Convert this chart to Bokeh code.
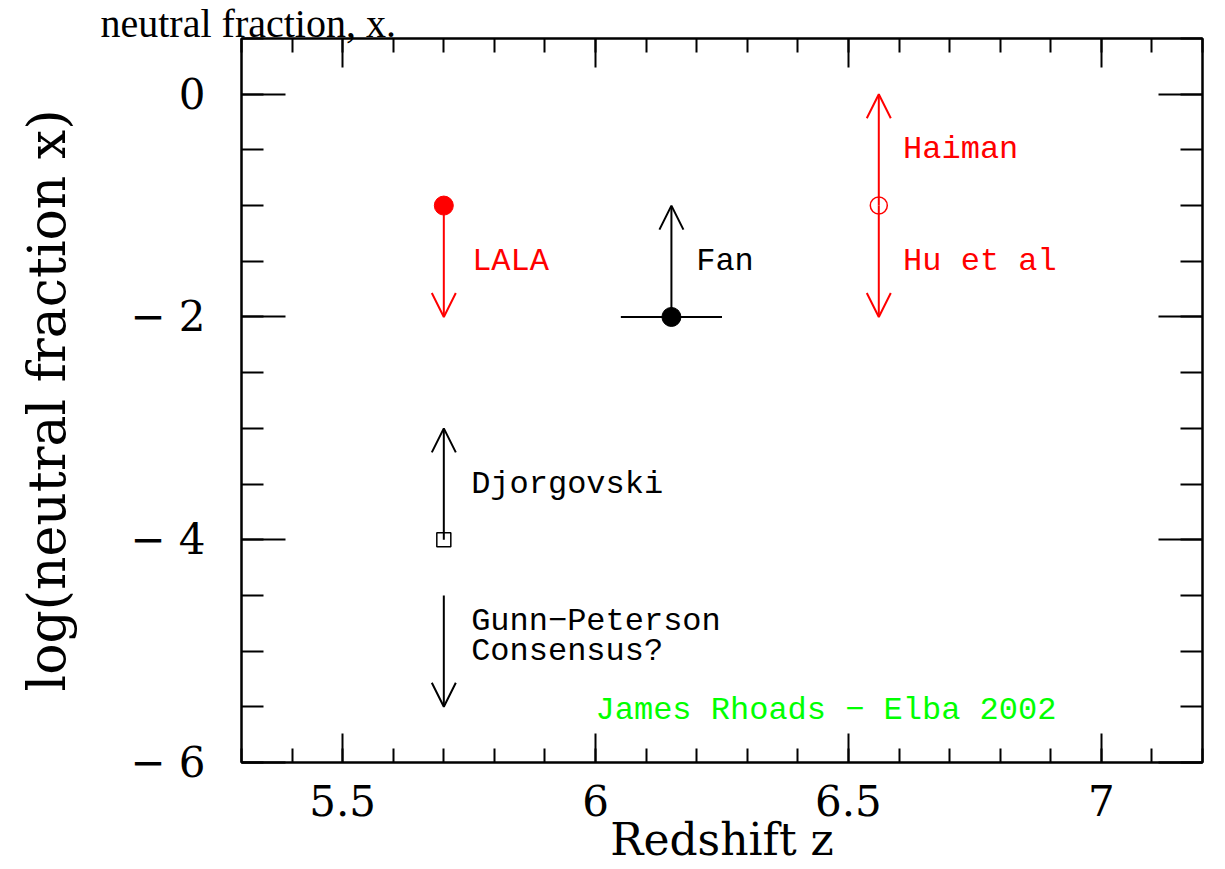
from bokeh.plotting import figure
from bokeh.models import (LinearAxis, FixedTicker, Arrow, OpenHead, Range1d,
                          CustomJSTickFormatter, ColumnDataSource)
from bokeh.core.properties import value
from bokeh.embed import file_html
from bokeh.resources import INLINE

# ---------------- data ----------------
# measurement points (redshift z, log neutral fraction)
pt_name = ["LALA", "Fan", "Hu et al", "Djorgovski"]
pt_z = [5.70, 6.15, 6.56, 5.70]
pt_logx = [-1.0, -2.0, -1.0, -4.0]
pt_marker = ["circle", "circle", "circle", "square"]
pt_color = ["#ff0000", "#000000", "#ff0000", "#000000"]
pt_filled = [True, True, False, False]

# limits drawn as arrows (from -> to)
arr_z = [5.70, 6.15, 6.56, 6.56, 5.70, 5.70]
arr_from = [-1.0, -2.0, -1.0, -1.0, -4.0, -4.5]
arr_to = [-2.0, -1.0, 0.0, -2.0, -3.0, -5.5]
arr_color = ["#ff0000", "#000000", "#ff0000", "#ff0000", "#000000", "#000000"]

# redshift error bar on Fan point
err_z_lo = [6.05]
err_z_hi = [6.25]
err_logx = [-2.0]

# annotations
lab_text = ["LALA", "Fan", "Haiman", "Hu et al", "Djorgovski",
            "Gunn\u2212Peterson", "Consensus?", "James Rhoads \u2212 Elba 2002"]
lab_z = [5.756, 6.199, 6.608, 6.608, 5.754, 5.754, 5.754, 6.0]
lab_logx = [-1.5, -1.5, -0.5, -1.5, -3.5, -4.73, -5.0, -5.53]
lab_color = ["#ff0000", "#000000", "#ff0000", "#ff0000", "#000000",
             "#000000", "#000000", "#00ff00"]

# axes
x_major = [5.5, 6.0, 6.5, 7.0]
x_minor = [5.3, 5.4, 5.5, 5.6, 5.7, 5.8, 5.9, 6.0, 6.1, 6.2, 6.3, 6.4, 6.5,
           6.6, 6.7, 6.8, 6.9, 7.0, 7.1, 7.2]
y_major = [0, -2, -4, -6]
y_minor = [0.5, 0, -0.5, -1, -1.5, -2, -2.5, -3, -3.5, -4, -4.5, -5, -5.5, -6]

heading = "neutral fraction, x."

# ---------------- figure ----------------
W, H = 1222, 867
p = figure(width=W, height=H, x_range=Range1d(5.3, 7.2), y_range=Range1d(-6, 0.5),
           output_backend="svg", toolbar_location=None, title=heading,
           min_border_left=241, min_border_right=W - 1202, min_border_top=38,
           min_border_bottom=H - 762,
           background_fill_color="white", border_fill_color="white",
           outline_line_color="black", outline_line_width=2, x_axis_location=None,
           y_axis_location=None)
p.grid.visible = False

p.title.align = "left"
p.title.offset = -141
p.title.text_font = "Liberation Serif"
p.title.text_font_size = "40px"
p.title.text_font_style = "normal"
p.title.text_color = "black"
p.title.standoff = -16
p.title.vertical_align = "middle"

xt = FixedTicker(ticks=x_major, minor_ticks=x_minor)
yt = FixedTicker(ticks=y_major, minor_ticks=y_minor)
xfmt = CustomJSTickFormatter(code="return String(tick);")
yfmt = CustomJSTickFormatter(code="return (tick === 0) ? '0' : '\\u2212 ' + Math.abs(tick);")


def style_axis(ax, maj, mnr, show):
    ax.major_tick_in = maj
    ax.major_tick_out = 0
    ax.minor_tick_in = mnr
    ax.minor_tick_out = 0
    ax.major_tick_line_width = 2
    ax.minor_tick_line_width = 2
    ax.major_tick_line_color = "black"
    ax.minor_tick_line_color = "black"
    ax.axis_line_color = "black"
    ax.axis_line_width = 2
    if show:
        ax.major_label_text_font = "DejaVu Serif"
        ax.major_label_text_font_size = "42px"
        ax.major_label_text_color = "black"
    else:
        # mirrored axis: ticks only, no labels drawn
        ax.major_label_text_font_size = "1px"
        ax.major_label_text_color = None
        ax.major_label_standoff = 0


xb = LinearAxis(ticker=xt, formatter=xfmt)
style_axis(xb, 29, 14, True)
xb.major_label_standoff = 22
xb.axis_label = "Redshift z"
xb.axis_label_text_font = "DejaVu Serif"
xb.axis_label_text_font_size = "44px"
xb.axis_label_text_font_style = "normal"
xb.axis_label_text_color = "black"
xb.axis_label_standoff = -5
p.add_layout(xb, "below")

xa = LinearAxis(ticker=xt, formatter=xfmt)
style_axis(xa, 29, 14, False)
p.add_layout(xa, "above")

yl = LinearAxis(ticker=yt, formatter=yfmt)
style_axis(yl, 44, 22, True)
yl.major_label_standoff = 36
yl.axis_label = "log(neutral fraction x)"
yl.axis_label_text_font = "DejaVu Serif"
yl.axis_label_text_font_size = "52px"
yl.axis_label_text_font_style = "normal"
yl.axis_label_text_color = "black"
yl.axis_label_standoff = 50
p.add_layout(yl, "left")

yr = LinearAxis(ticker=yt, formatter=yfmt)
style_axis(yr, 44, 22, False)
p.add_layout(yr, "right")

# error bar
p.segment(x0=err_z_lo, y0=err_logx, x1=err_z_hi, y1=err_logx, line_color="black", line_width=2)

# arrows
for col in ["#ff0000", "#000000"]:
    idx = [i for i, c in enumerate(arr_color) if c == col]
    src = ColumnDataSource(dict(x=[arr_z[i] for i in idx], y0=[arr_from[i] for i in idx],
                                y1=[arr_to[i] for i in idx]))
    p.add_layout(Arrow(source=src, x_start="x", y_start="y0", x_end="x", y_end="y1",
                       line_color=col, line_width=2,
                       end=OpenHead(size=24, line_color=col, line_width=2)))

# points
for i in range(len(pt_name)):
    if pt_filled[i]:
        p.scatter([pt_z[i]], [pt_logx[i]], marker=pt_marker[i], size=19,
                  fill_color=pt_color[i], line_color=pt_color[i])
    else:
        p.scatter([pt_z[i]], [pt_logx[i]], marker=pt_marker[i],
                  size=17 if pt_marker[i] == "circle" else 14,
                  fill_color=None, line_color=pt_color[i], line_width=1.5)

# text labels
lsrc = ColumnDataSource(dict(x=lab_z, y=lab_logx, t=lab_text, c=lab_color))
p.text(x="x", y="y", text="t", text_color="c", source=lsrc, text_font=value("Liberation Mono"),
       text_font_size="32px", text_baseline="middle", text_align="left")

open("out.html", "w").write(file_html(p, INLINE))
